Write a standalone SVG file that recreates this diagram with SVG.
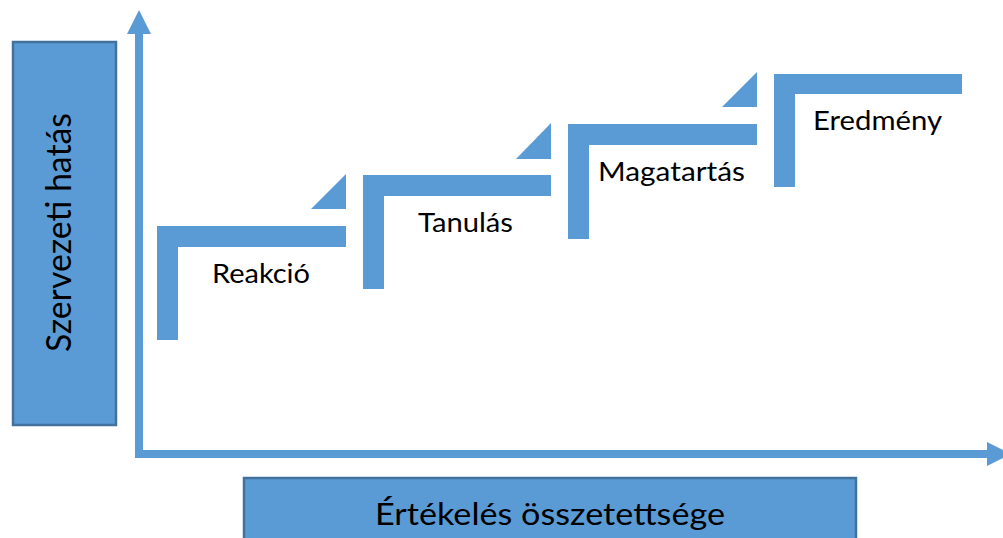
<svg xmlns="http://www.w3.org/2000/svg" width="1003" height="538" viewBox="0 0 1003 538">
<style>
.box{fill:#5B9BD5;stroke:#41719C;stroke-width:2.5}
.step{fill:#5B9BD5}
.axis{stroke:#5B9BD5;stroke-width:8;fill:none}
.lbl{font-family:Lato,"Liberation Sans",sans-serif;fill:#000}
</style>
<defs>
<marker id="ah" markerUnits="userSpaceOnUse" markerWidth="26" markerHeight="26" viewBox="0 -13 26 26" refX="0" refY="0" orient="auto">
<path d="M0,-12 L24,0 L0,12 Z" fill="#5B9BD5"/>
</marker>
</defs>
<g id="yLabel">
<rect class="box" x="13" y="42" width="103" height="383"/>
<text class="lbl" x="71" y="232.5" font-size="35.5" text-anchor="middle" textLength="239" lengthAdjust="spacingAndGlyphs" transform="rotate(-90 71 232.5)">Szervezeti hatás</text>
</g>
<g id="xLabel">
<rect class="box" x="244" y="478" width="612" height="70"/>
<text class="lbl" x="550" y="525" font-size="30" text-anchor="middle" textLength="350" lengthAdjust="spacingAndGlyphs">Értékelés összetettsége</text>
</g>
<g id="connectors">
<line class="axis" x1="139" y1="458" x2="139" y2="34" marker-end="url(#ah)"/>
<line class="axis" x1="135" y1="454" x2="987" y2="454" marker-end="url(#ah)"/>
</g>
<g id="step1">
<path class="step" d="M157,226 H346 V247 H178 V340 H157 Z"/>
<path class="step" d="M346,174 V209 H311 Z"/>
<text class="lbl" x="212" y="283" font-size="27.5" textLength="98" lengthAdjust="spacingAndGlyphs">Reakció</text>
</g>
<g id="step2">
<path class="step" d="M363,175 H551 V196 H384 V289 H363 Z"/>
<path class="step" d="M551,123 V159 H516 Z"/>
<text class="lbl" x="418" y="232" font-size="27.5" textLength="95" lengthAdjust="spacingAndGlyphs">Tanulás</text>
</g>
<g id="step3">
<path class="step" d="M568,124 H757 V145 H589 V239 H568 Z"/>
<path class="step" d="M757,72 V107 H722 Z"/>
<text class="lbl" x="598" y="181" font-size="27.5" textLength="147" lengthAdjust="spacingAndGlyphs">Magatartás</text>
</g>
<g id="step4">
<path class="step" d="M774,74 H962 V94 H795 V187 H774 Z"/>
<text class="lbl" x="813" y="130" font-size="27.5" textLength="129" lengthAdjust="spacingAndGlyphs">Eredmény</text>
</g>
</svg>
